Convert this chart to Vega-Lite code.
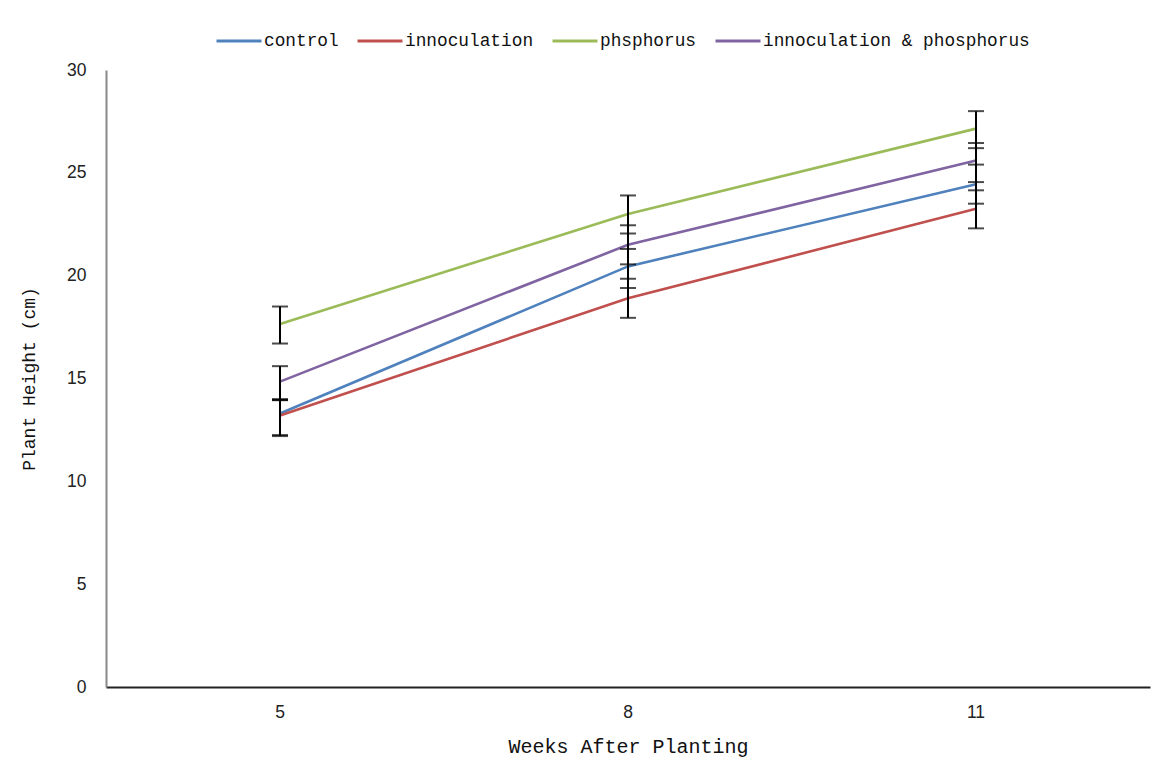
{
  "$schema": "https://vega.github.io/schema/vega-lite/v6.json",
  "autosize": "none",
  "width": 1044,
  "height": 617,
  "padding": {"left": 106, "top": 70, "right": 26, "bottom": 89},
  "background": "white",
  "config": {
    "view": {"stroke": null},
    "axis": {"grid": false, "ticks": false, "tickSize": 0, "labelFont": "Liberation Sans", "labelFontSize": 17.5, "labelColor": "#222", "titleFont": "Liberation Mono", "titleFontSize": 18, "titleFontWeight": "normal", "titleColor": "#111"},
    "legend": {"labelFont": "Liberation Mono", "labelFontSize": 17.8, "labelColor": "#111", "labelLimit": 500}
  },
  "data": {"values": [
    {"week": 5, "series": "control", "height": 13.3, "low": 12.25, "high": 14.0},
    {"week": 5, "series": "innoculation", "height": 13.2, "low": 12.2, "high": 13.95},
    {"week": 5, "series": "phsphorus", "height": 17.65, "low": 16.7, "high": 18.5},
    {"week": 5, "series": "innoculation & phosphorus", "height": 14.85, "low": 13.95, "high": 15.6},
    {"week": 8, "series": "control", "height": 20.45, "low": 19.4, "high": 21.3},
    {"week": 8, "series": "innoculation", "height": 18.9, "low": 17.95, "high": 19.85},
    {"week": 8, "series": "phsphorus", "height": 23.0, "low": 22.05, "high": 23.9},
    {"week": 8, "series": "innoculation & phosphorus", "height": 21.5, "low": 20.55, "high": 22.45},
    {"week": 11, "series": "control", "height": 24.45, "low": 23.5, "high": 25.4},
    {"week": 11, "series": "innoculation", "height": 23.25, "low": 22.3, "high": 24.15},
    {"week": 11, "series": "phsphorus", "height": 27.15, "low": 26.2, "high": 28.0},
    {"week": 11, "series": "innoculation & phosphorus", "height": 25.6, "low": 24.55, "high": 26.45}
  ]},
  "encoding": {
    "x": {"field": "week", "type": "ordinal", "scale": {"type": "band", "paddingInner": 0, "paddingOuter": 0},
      "axis": {"title": "Weeks After Planting", "titleFontSize": 20, "labelAngle": 0, "labelPadding": 16, "titlePadding": 16, "domainColor": "#222", "domainWidth": 2}}
  },
  "layer": [
    {
      "mark": {"type": "line", "strokeWidth": 2.6},
      "encoding": {
        "y": {"field": "height", "type": "quantitative", "scale": {"domain": [0, 30], "nice": false},
          "axis": {"title": "Plant Height (cm)", "values": [0, 5, 10, 15, 20, 25, 30], "labelPadding": 20, "titlePadding": 28, "domainColor": "#888", "domainWidth": 2}},
        "color": {"field": "series", "type": "nominal",
          "scale": {"domain": ["control", "innoculation", "phsphorus", "innoculation & phosphorus"], "range": ["#4F81BD", "#C0504D", "#9BBB59", "#8064A2"]},
          "legend": {"title": null, "orient": "none", "legendX": 109, "legendY": -53, "direction": "horizontal", "symbolType": "stroke", "symbolSize": 2025, "symbolStrokeWidth": 3, "labelOffset": 1, "columnPadding": 12}}
      }
    },
    {
      "mark": {"type": "rule", "color": "#000", "strokeWidth": 2},
      "encoding": {"y": {"field": "low", "type": "quantitative"}, "y2": {"field": "high"}}
    },
    {
      "mark": {"type": "tick", "color": "#000", "thickness": 2, "size": 16, "orient": "horizontal"},
      "encoding": {"y": {"field": "low", "type": "quantitative"}}
    },
    {
      "mark": {"type": "tick", "color": "#000", "thickness": 2, "size": 16, "orient": "horizontal"},
      "encoding": {"y": {"field": "high", "type": "quantitative"}}
    }
  ]
}
